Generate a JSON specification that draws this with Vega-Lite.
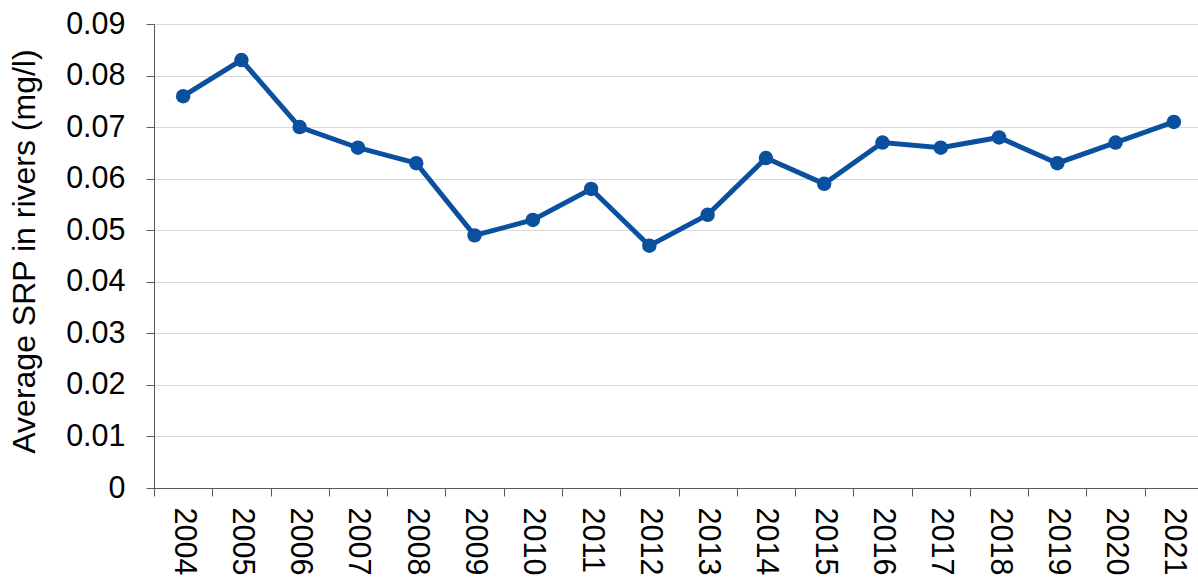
{
  "$schema": "https://vega.github.io/schema/vega-lite/v6.json",
  "autosize": "none",
  "width": 1049,
  "height": 464,
  "padding": {"left": 154, "top": 24, "right": 0, "bottom": 91},
  "background": "white",
  "data": {
    "values": [
      {"year": "2004", "srp": 0.076},
      {"year": "2005", "srp": 0.083},
      {"year": "2006", "srp": 0.070},
      {"year": "2007", "srp": 0.066},
      {"year": "2008", "srp": 0.063},
      {"year": "2009", "srp": 0.049},
      {"year": "2010", "srp": 0.052},
      {"year": "2011", "srp": 0.058},
      {"year": "2012", "srp": 0.047},
      {"year": "2013", "srp": 0.053},
      {"year": "2014", "srp": 0.064},
      {"year": "2015", "srp": 0.059},
      {"year": "2016", "srp": 0.067},
      {"year": "2017", "srp": 0.066},
      {"year": "2018", "srp": 0.068},
      {"year": "2019", "srp": 0.063},
      {"year": "2020", "srp": 0.067},
      {"year": "2021", "srp": 0.071}
    ]
  },
  "mark": {
    "type": "line",
    "color": "#0b509e",
    "strokeWidth": 5,
    "point": {"filled": true, "size": 210, "color": "#0b509e", "opacity": 1}
  },
  "encoding": {
    "x": {
      "field": "year",
      "type": "ordinal",
      "bandPosition": 0.5,
      "scale": {"type": "band", "paddingInner": 0, "paddingOuter": 0},
      "axis": {
        "title": null,
        "tickBand": "extent",
        "labelAngle": 90,
        "labelAlign": "left",
        "labelBaseline": "middle",
        "labelPadding": 11,
        "labelFont": "Liberation Sans",
        "labelFontSize": 30.5,
        "labelColor": "black",
        "tickSize": 8,
        "tickColor": "#595959",
        "domainColor": "#595959",
        "grid": false
      }
    },
    "y": {
      "field": "srp",
      "type": "quantitative",
      "scale": {"domain": [0, 0.09], "nice": false},
      "axis": {
        "title": "Average SRP in rivers (mg/l)",
        "values": [0, 0.01, 0.02, 0.03, 0.04, 0.05, 0.06, 0.07, 0.08, 0.09],
        "labelExpr": "datum.value == 0 ? '0' : format(datum.value, '.2f')",
        "labelFont": "Liberation Sans",
        "labelFontSize": 30.5,
        "labelColor": "black",
        "labelPadding": 21,
        "tickSize": 8,
        "tickColor": "#595959",
        "domainColor": "#595959",
        "gridColor": "#d9d9d9",
        "titleFont": "Liberation Sans",
        "titleFontSize": 32,
        "titleFontWeight": "normal",
        "titleColor": "black",
        "titleAngle": -90,
        "titleAlign": "center",
        "titleBaseline": "middle",
        "titleX": -130,
        "titleY": 227
      }
    }
  },
  "config": {"view": {"stroke": null}}
}
